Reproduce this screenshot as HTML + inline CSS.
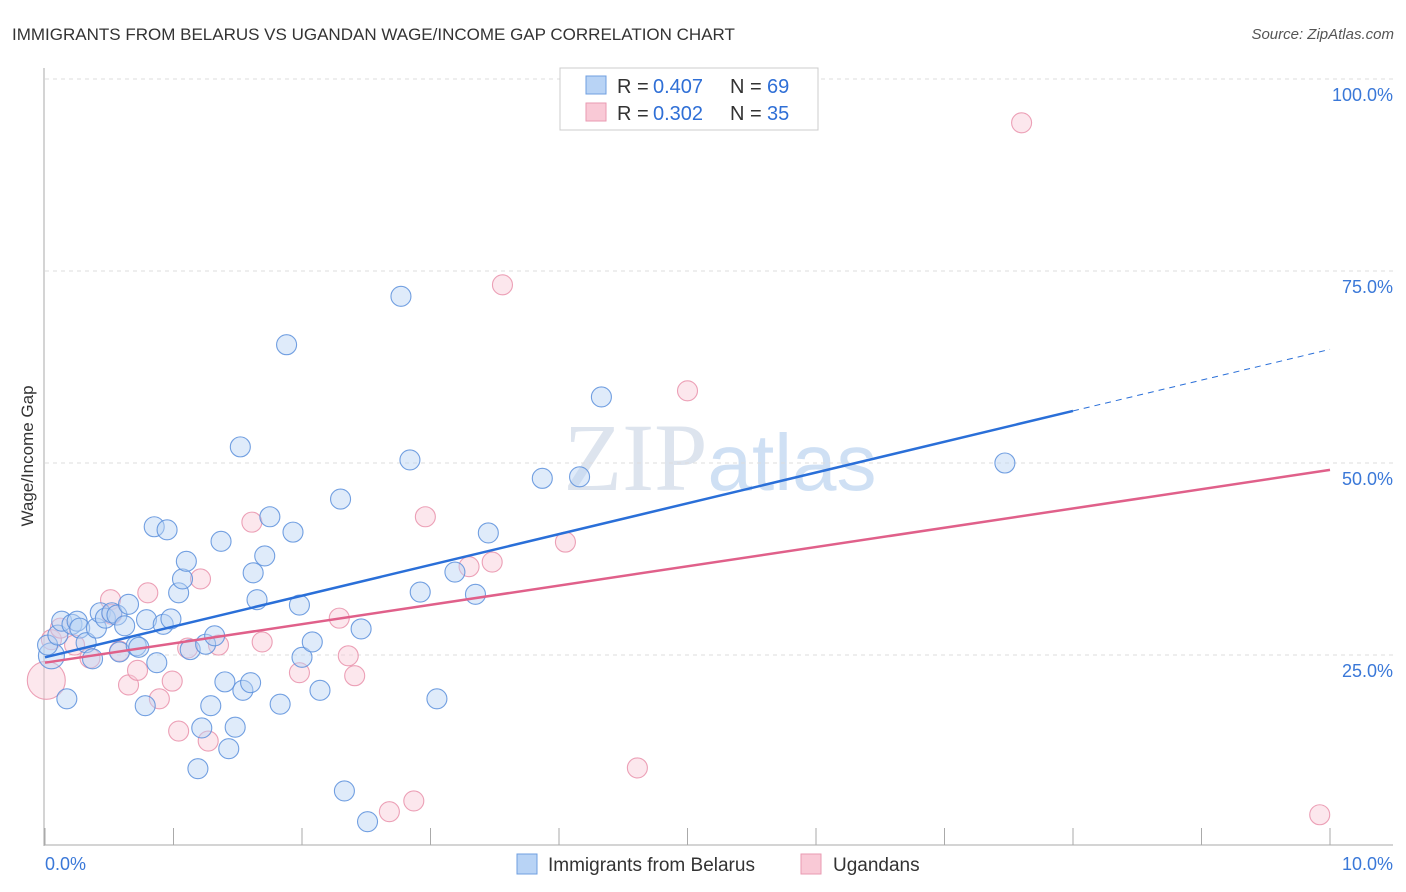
<!DOCTYPE html>
<html><head><meta charset="utf-8"><style>
body{margin:0;background:#fff;font-family:"Liberation Sans",sans-serif}
svg{display:block}
</style></head><body>
<svg width="1406" height="892" font-family="Liberation Sans, sans-serif">
<text x="12" y="40" font-size="17" fill="#333">IMMIGRANTS FROM BELARUS VS UGANDAN WAGE/INCOME GAP CORRELATION CHART</text>
<text x="1394" y="39" font-size="15" fill="#555" text-anchor="end" font-style="italic">Source: ZipAtlas.com</text>
<text x="720" y="490" font-size="96" fill="#dde4ee" text-anchor="middle" font-family="Liberation Serif, serif">ZIP<tspan fill="#cfe0f4" font-family="Liberation Sans, sans-serif" font-size="80">atlas</tspan></text>
<g id="grid"></g>
<g id="axes"></g>
<g id="marks"></g>
<text x="33" y="456" font-size="17" fill="#333" text-anchor="middle" transform="rotate(-90 33 456)">Wage/Income Gap</text>
<g>
<rect x="560" y="68" width="258" height="62" fill="#fff" stroke="#ccc"/>
<rect x="586" y="76" width="20" height="18" fill="#b8d3f5" stroke="#6f9fe0"/>
<rect x="586" y="103" width="20" height="18" fill="#f9c9d6" stroke="#e99ab2"/>
<text x="617" y="93" font-size="20" fill="#333">R =</text>
<text x="653" y="93" font-size="20" fill="#2f6fd6">0.407</text>
<text x="730" y="93" font-size="20" fill="#333">N =</text>
<text x="767" y="93" font-size="20" fill="#2f6fd6">69</text>
<text x="617" y="120" font-size="20" fill="#333">R =</text>
<text x="653" y="120" font-size="20" fill="#2f6fd6">0.302</text>
<text x="730" y="120" font-size="20" fill="#333">N =</text>
<text x="767" y="120" font-size="20" fill="#2f6fd6">35</text>
</g>
<g>
<rect x="517" y="854" width="20" height="20" fill="#b8d3f5" stroke="#6f9fe0"/>
<text x="548" y="871" font-size="19" fill="#333">Immigrants from Belarus</text>
<rect x="801" y="854" width="20" height="20" fill="#f9c9d6" stroke="#e99ab2"/>
<text x="833" y="871" font-size="19" fill="#333">Ugandans</text>
</g>
</svg>
<script>
const blueX=[0.05,0.02,0.10,0.13,0.21,0.25,0.27,0.32,0.37,0.40,0.43,0.47,0.52,0.56,0.58,0.62,0.65,0.71,0.73,0.79,0.78,0.85,0.87,0.92,0.95,0.98,1.04,1.07,1.10,1.13,1.19,1.22,1.25,1.29,1.32,1.37,1.40,1.43,1.48,1.52,1.54,1.60,1.62,1.65,1.71,1.75,1.83,1.88,1.93,1.98,2.00,2.08,2.14,2.30,2.33,2.46,2.51,2.77,2.84,2.92,3.05,3.19,3.35,3.45,3.87,4.16,4.33,7.47,0.17];
const blueY=[24.9,26.3,27.6,29.4,29.0,29.4,28.5,26.6,24.5,28.5,30.5,29.8,30.5,30.2,25.4,28.8,31.6,26.2,26.0,29.6,18.4,41.7,24.0,29.0,41.3,29.7,33.1,34.9,37.2,25.7,10.2,15.5,26.4,18.4,27.5,39.8,21.5,12.8,15.6,52.1,20.4,21.4,35.7,32.2,37.9,43.0,18.6,65.4,41.0,31.5,24.7,26.7,20.4,45.3,7.3,28.4,3.3,71.7,50.4,33.2,19.3,35.8,32.9,40.9,48.0,48.2,58.6,50.0,19.3];
const pinkX=[0.01,0.05,0.23,0.35,0.51,0.52,0.58,0.65,0.72,0.80,0.89,0.99,1.04,1.11,1.21,1.27,1.35,1.61,1.69,1.98,2.29,2.36,2.41,2.68,2.87,2.96,3.30,3.48,3.56,4.05,4.61,5.00,7.60,9.92,0.12];
const pinkY=[21.7,27.0,26.3,24.6,32.2,30.3,25.5,21.1,23.0,33.1,19.3,21.6,15.1,25.9,34.9,13.8,26.3,42.3,26.7,22.7,29.8,24.9,22.3,4.6,6.0,43.0,36.5,37.1,73.2,39.7,10.3,59.4,94.3,4.2,28.5];
const yTicks=[25,50,75,100];
const xTicks=[0,1,2,3,4,5,6,7,8,9,10];
const blueTrend=[24.7,4.01];
const pinkTrend=[24.0,2.51];
const NS="http://www.w3.org/2000/svg";
const sx=v=>45+v*128.5, sy=v=>847-v*7.68;
function mk(tag,attrs,parent){const e=document.createElementNS(NS,tag);for(const k in attrs)e.setAttribute(k,attrs[k]);document.getElementById(parent).appendChild(e);return e;}
yTicks.forEach(t=>{
 const l=mk('line',{x1:45,x2:1393,y1:sy(t),y2:sy(t),stroke:'#ddd','stroke-dasharray':'4,4'},'grid');
 
 
 const tx=mk('text',{x:1393,y:sy(t)+22,'font-size':18,fill:'#3a78d8','text-anchor':'end'},'grid');
 tx.textContent=t.toFixed(1)+'%';
 
 
});
const ax=mk('line',{x1:44,x2:44,y1:68,y2:846,stroke:'#aaa'},'axes');


const bx=mk('line',{x1:44,x2:1393,y1:845,y2:845,stroke:'#aaa'},'axes');


xTicks.forEach(t=>{
 const l=mk('line',{x1:sx(t),x2:sx(t),y1:828,y2:845,stroke:'#aaa'},'axes');
 
 
});
[[0,'0.0%',45,'start'],[10,'10.0%',1393,'end']].forEach(a=>{
 const tx=mk('text',{x:a[2],y:870,'font-size':18,fill:'#3a78d8','text-anchor':a[3]},'axes');
 tx.textContent=a[1];
 
 
});
function dots(X,Y,fill,stroke,name){X.forEach((x,i)=>{
 const r=(i===0)?(name==='pink-point'?19:13):10;
 const c=mk('circle',{cx:sx(x),cy:sy(Y[i]),r:r,fill:fill,'fill-opacity':0.45,stroke:stroke,'stroke-width':1.1,'stroke-opacity':0.85},'marks');
 
 
});}
dots(pinkX,pinkY,'#f9c9d6','#e990aa','pink-point');
dots(blueX,blueY,'#b8d3f5','#5a8fdc','blue-point');
let l=mk('line',{x1:sx(0),y1:sy(blueTrend[0]),x2:sx(8),y2:sy(blueTrend[0]+8*blueTrend[1]),stroke:'#2a6fd8','stroke-width':2.5},'marks');


l=mk('line',{x1:sx(8),y1:sy(blueTrend[0]+8*blueTrend[1]),x2:sx(10),y2:sy(blueTrend[0]+10*blueTrend[1]),stroke:'#2a6fd8','stroke-width':1,'stroke-dasharray':'6,5'},'marks');


l=mk('line',{x1:sx(0),y1:sy(pinkTrend[0]),x2:sx(10),y2:sy(pinkTrend[0]+10*pinkTrend[1]),stroke:'#e0608a','stroke-width':2.5},'marks');


</script>
</body></html>
